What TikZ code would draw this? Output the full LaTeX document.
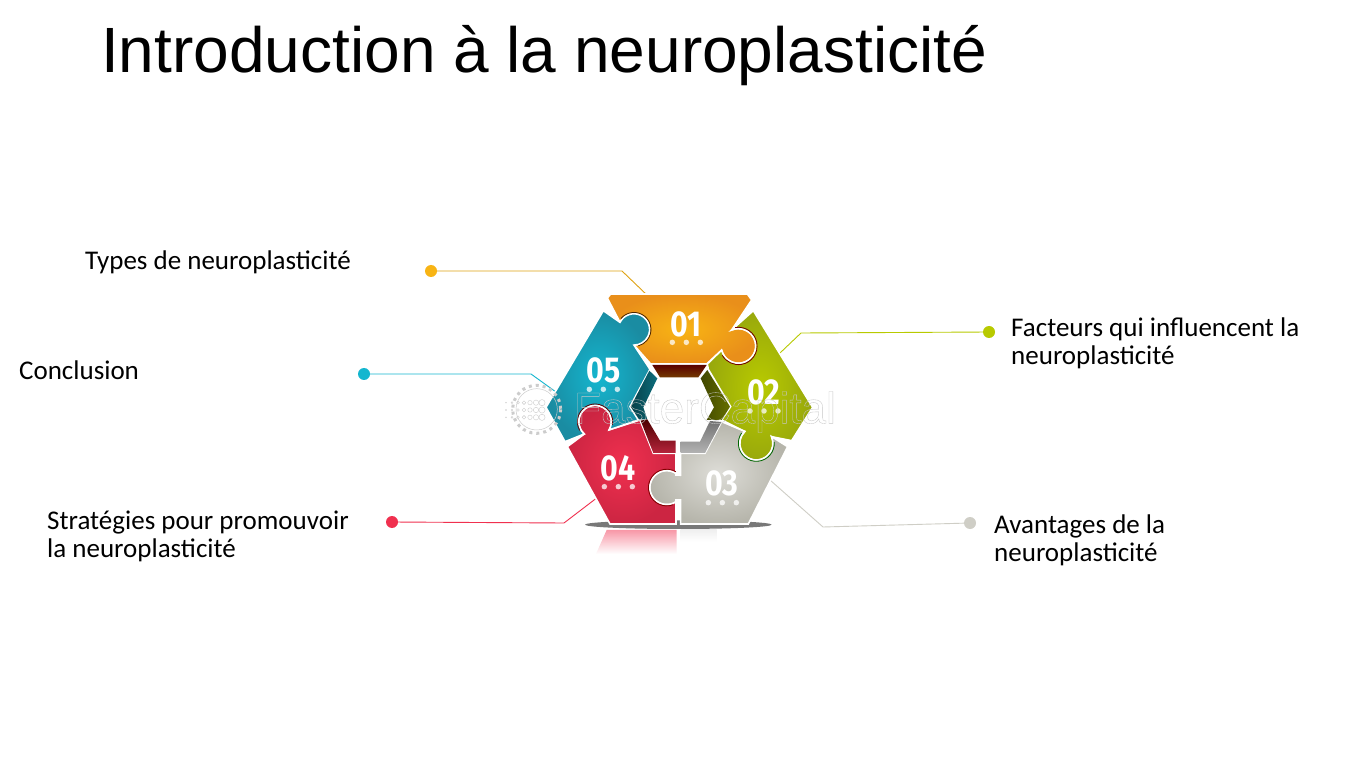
\documentclass[tikz,border=0pt]{standalone}
\usepackage{fontspec}
\setmainfont{Carlito}
\newfontfamily\titlefont{Liberation Sans}
\newfontfamily\numfont{Fira Sans}[UprightFont=* Bold]
\usetikzlibrary{calc}
\definecolor{cOrange}{HTML}{F8B414}
\definecolor{cGreen}{HTML}{B8CA00}
\definecolor{cTeal}{HTML}{14B6CF}
\definecolor{cRed}{HTML}{F0304F}
\definecolor{cGrey}{HTML}{CFCEC6}
\definecolor{oOrange}{HTML}{E98F1A}
\definecolor{oGreen}{HTML}{98A80C}
\definecolor{oTeal}{HTML}{1A8CA2}
\definecolor{oRed}{HTML}{CC2542}
\definecolor{oGrey}{HTML}{B6B5AB}
\tikzset{
  lab/.style={anchor=base west,inner sep=0pt,text=black,font=\fontsize{27}{28}\selectfont,align=left},
  labtwo/.style={lab,anchor=west},
  dotn/.style={circle,inner sep=0pt,minimum size=12pt,fill=#1},
  conn/.style={line width=.9pt,draw=#1},
  piece/.style={draw=white,line width=1.6pt,line join=miter},
  num/.style={text=white,inner sep=0pt,font=\numfont\fontsize{36}{36}\selectfont,xscale=.84},
  mini/.style={circle,fill=white,opacity=.75,inner sep=0pt,minimum size=5.5pt},
  sock/.style={line width=.8pt,draw=#1},
  wmk/.style={draw=black!20,line width=.4pt}
}
\begin{document}
\begin{tikzpicture}[x=1pt,y=-1pt]
\useasboundingbox (0,0) rectangle (1350,759);
\fill[white] (0,0) rectangle (1350,759);
\node[anchor=base west,inner sep=0pt,font=\titlefont\fontsize{64}{70}\selectfont] (title) at (101,73) {Introduction à la neuroplasticité};

% labels
\node[lab] (t1) at (85,270) {Types de neuroplasticité};
\node[labtwo] (t2) at (1011,343.5) {Facteurs qui influencent la\\neuroplasticité};
\node[labtwo] (t3) at (994,540.5) {Avantages de la\\neuroplasticité};
\node[labtwo] (t4) at (47,536.5) {Stratégies pour promouvoir\\la neuroplasticité};
\node[lab] (t5) at (19,380) {Conclusion};

% dots and connectors
\node[dotn=cOrange] (d1) at (431,271) {};
\node[dotn=cGreen] (d2) at (989,332) {};
\node[dotn=cGrey] (d3) at (970,523) {};
\node[dotn=cRed] (d4) at (392,522) {};
\node[dotn=cTeal] (d5) at (364,374) {};
\coordinate (k1) at (622,271); \coordinate (e1) at (648,296);
\coordinate (k2) at (801,333); \coordinate (e2) at (780,353);
\coordinate (k3) at (823,527); \coordinate (e3) at (770,480);
\coordinate (k4) at (564,523); \coordinate (e4) at (598,497);
\coordinate (k5) at (531,374); \coordinate (e5) at (556,392);
\draw[conn=cOrange!90!black] (d1) -- (k1) -- (e1);
\draw[conn=cGreen] (d2) -- (k2) -- (e2);
\draw[conn=cGrey] (d3) -- (k3) -- (e3);
\draw[conn=cRed] (d4) -- (k4) -- (e4);
\draw[conn=cTeal] (d5) -- (k5) -- (e5);

\begin{scope}[shift={(490,270)},x=0.33333pt,y=-0.33333pt]
% shadow and reflection
\fill[black!70,opacity=.75] (565,764) ellipse [x radius=280,y radius=13];
\shade[top color=cRed!50,bottom color=white] (350,780) -- (560,780) -- (560,852) -- (318,852) -- cycle;
\shade[top color=black!6,bottom color=white] (572,780) -- (680,780) -- (680,815) -- (572,815) -- cycle;

% 01
\shadedraw[piece,inner color=cOrange,outer color=oOrange]
 (352,84) -- (362,72) -- (772,72) -- (785,90) -- (725,180)
 arc[start angle=-113,end angle=166,radius=52] -- (650,282) -- (482,282) -- (431.9,225.3)
 arc[start angle=90,end angle=-153,radius=47] -- cycle;
% 02
\shadedraw[piece,inner color=cGreen,outer color=oGreen]
 (790,122) -- (968,412) -- (905,512) -- (845,500)
 arc[start angle=-24,end angle=226,radius=50] -- (695,450) -- (722,410) -- (655,298) -- (652,282) -- (694.8,240.5)
 arc[start angle=166,end angle=-113,radius=52] -- cycle;
% 03
\shadedraw[piece,inner color=cGrey!70!white,outer color=oGrey]
 (572,550) -- (645,550) -- (695,455) -- (764,484)
 arc[start angle=226,end angle=-24,radius=50] -- (893,530) -- (775,762) -- (572,762) -- (572,690) -- (565,690)
 arc[start angle=47,end angle=313,radius=51] -- (572,615) -- cycle;
% 04
\shadedraw[piece,inner color=cRed,outer color=oRed]
 (232,530) -- (283,492)
 arc[start angle=131,end angle=390,radius=49] -- (450,450) -- (490,550) -- (558,550) -- (558,615) -- (565,615.4)
 arc[start angle=313,end angle=47,radius=51] -- (558,690) -- (558,762) -- (360,762) -- cycle;
% 05
\shadedraw[piece,inner color=cTeal,outer color=oTeal]
 (340,122) -- (390,157)
 arc[start angle=-153,end angle=90,radius=47] -- (480,298) -- (420,410) -- (445,450) -- (357.5,479.5)
 arc[start angle=30,end angle=-229,radius=49] -- (225,515) -- (168,412) -- cycle;

% socket edges
\draw[sock=red!45!black] (745.3,227.9) ++(-100:56) arc[start angle=-100,end angle=150,radius=56];
\draw[sock=black!60!green] (799,520) ++(-5:54) arc[start angle=-5,end angle=215,radius=54];
\draw[sock=red!50!black] (530.2,652.7) ++(70:55) arc[start angle=70,end angle=300,radius=55];
\draw[sock=red!40!black] (315.1,455) ++(150:53) arc[start angle=150,end angle=370,radius=53];
\draw[sock=black!70!orange] (431.9,178.3) ++(-140:51) arc[start angle=-140,end angle=75,radius=51];

% inner bevel
\shade[top color=red!35!black,bottom color=orange!45!black] (487,285) -- (650,285) -- (625,322) -- (510,322) -- cycle;
\shade[left color=cTeal!35!black,right color=cTeal!60!black] (478,302) -- (502,325) -- (460,412) -- (472,448) -- (447,448) -- (422,410) -- cycle;
\shade[left color=black!65!cGreen,right color=cGreen!55!black] (652,300) -- (632,325) -- (672,412) -- (650,450) -- (695,450) -- (720,410) -- cycle;
\shade[top color=red!30!black,bottom color=cRed!75!black] (452,452) -- (472,448) -- (510,512) -- (557,512) -- (557,549) -- (490,549) -- cycle;
\shade[top color=black!55,bottom color=black!30] (572,515) -- (630,515) -- (660,453) -- (694,456) -- (645,549) -- (572,549) -- cycle;

% numbers
\node[num] (n1) at (589,162) {01};
\node[num] (n2) at (821,368) {02};
\node[num] (n3) at (695,641) {03};
\node[num] (n4) at (385,594) {04};
\node[num] (n5) at (340,300) {05};
\foreach \nm/\cx/\cy in {a/589/217,b/822/423,c/697/698,d/385/650,e/340/358}{
  \node[mini] (\nm1) at (\cx-42,\cy) {};
  \node[mini] (\nm2) at (\cx,\cy) {};
  \node[mini] (\nm3) at (\cx+42,\cy) {};
}

% watermark
\draw[draw=black!20,line width=.5pt] (140,418) circle[radius=62];
\draw[draw=black!20,line width=3pt,dash pattern=on 3pt off 4pt] (140,418) circle[radius=72];
\foreach \xx in {48,66,84,102,120,138,156}{
  \foreach \yy in {398,420,442}{
    \draw[wmk] (\xx,\yy) circle[radius={1+(\xx-40)/14}];
  }
}
\node[anchor=base west,inner sep=0pt,text=black!22,font=\titlefont\fontsize{44}{44}\selectfont] (wm) at (252,460)
  {\special{pdf:code 1 Tr 0.35 w}FasterCapital\special{pdf:code 0 Tr}};
\end{scope}
\end{tikzpicture}
\end{document}
